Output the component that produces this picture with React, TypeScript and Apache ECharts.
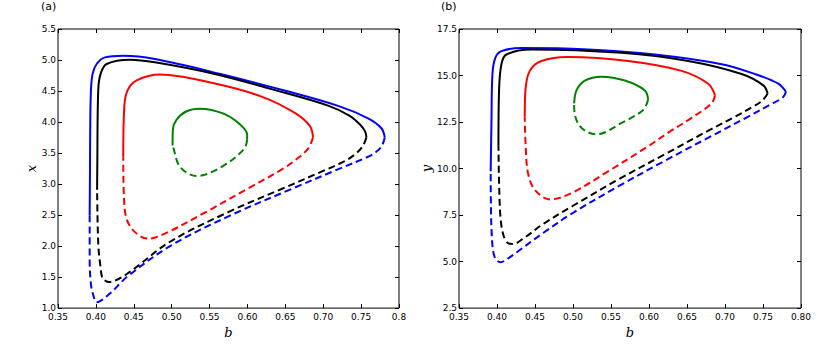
import React, { useEffect, useRef } from "react";
import * as echarts from "echarts";

// ---------- tick labels ----------
const xTicksA = ["0.35", "0.40", "0.45", "0.50", "0.55", "0.60", "0.65", "0.70", "0.75", "0.8"];
const xTicksB = ["0.35", "0.40", "0.45", "0.50", "0.55", "0.60", "0.65", "0.70", "0.75", "0.80"];
const yTicksA = ["1.0", "1.5", "2.0", "2.5", "3.0", "3.5", "4.0", "4.5", "5.0", "5.5"];
const yTicksB = ["2.5", "5.0", "7.5", "10.0", "12.5", "15.0", "17.5"];

// ---------- panel (a): b vs x ----------
const blueSolidA = [[0.3918, 2.5], [0.3922, 3.2], [0.3926, 4.0], [0.3935, 4.515], [0.3957, 4.78], [0.401, 4.936], [0.412, 5.042], [0.4361, 5.068], [0.4779, 5.015], [0.5658, 4.77], [0.645, 4.52], [0.7196, 4.26], [0.7592, 4.06], [0.7768, 3.9], [0.7812, 3.752]];
const blueDashA = [[0.7812, 3.752], [0.7775, 3.62], [0.77, 3.52], [0.761, 3.45], [0.72, 3.24], [0.66, 2.93], [0.5768, 2.49], [0.4978, 2.0], [0.4408, 1.5], [0.418, 1.23], [0.401, 1.095], [0.3962, 1.225], [0.3935, 1.38], [0.3918, 1.75], [0.3918, 2.5]];
const blackSolidA = [[0.4016, 2.91], [0.4018, 3.2], [0.4031, 4.515], [0.4063, 4.78], [0.4142, 4.936], [0.445, 5.005], [0.4779, 4.963], [0.557, 4.775], [0.6318, 4.53], [0.7064, 4.265], [0.735, 4.1], [0.7485, 3.96], [0.7552, 3.85], [0.757, 3.752]];
const blackDashA = [[0.757, 3.752], [0.7526, 3.62], [0.744, 3.5], [0.7284, 3.37], [0.6977, 3.2], [0.645, 2.92], [0.5768, 2.56], [0.4978, 2.07], [0.4408, 1.55], [0.4167, 1.42], [0.4087, 1.49], [0.4063, 1.647], [0.4032, 2.015], [0.4016, 2.91]];
const redSolidA = [[0.4361, 3.43], [0.4375, 4.253], [0.4419, 4.515], [0.4538, 4.673], [0.4845, 4.768], [0.557, 4.62], [0.6186, 4.41], [0.6625, 4.147], [0.6823, 3.937], [0.6866, 3.752]];
const redDashA = [[0.6866, 3.752], [0.68, 3.57], [0.6646, 3.4], [0.646, 3.24], [0.601, 2.93], [0.5438, 2.54], [0.491, 2.2], [0.469, 2.12], [0.4515, 2.225], [0.4406, 2.437], [0.437, 2.8], [0.4361, 3.43]];
const greenSolidA = [[0.5012, 3.62], [0.5016, 3.883], [0.5065, 4.04], [0.5197, 4.174], [0.5372, 4.215], [0.5658, 4.147], [0.5877, 3.989], [0.5996, 3.8], [0.5996, 3.72]];
const greenDashA = [[0.5996, 3.72], [0.5957, 3.567], [0.566, 3.278], [0.533, 3.13], [0.511, 3.278], [0.502, 3.594], [0.5012, 3.62]];

// ---------- panel (b): b vs y ----------
const blueSolidB = [[0.3917, 9.85], [0.3927, 12.45], [0.394, 15.08], [0.3979, 15.96], [0.4058, 16.31], [0.4322, 16.48], [0.5199, 16.4], [0.6077, 16.13], [0.6956, 15.61], [0.7394, 15.08], [0.7701, 14.56], [0.7803, 14.12]];
const blueDashB = [[0.7803, 14.12], [0.776, 13.82], [0.76, 13.45], [0.73, 12.78], [0.68, 11.7], [0.62, 10.4], [0.56, 9.05], [0.5, 7.62], [0.46, 6.52], [0.43, 5.62], [0.412, 5.1], [0.4049, 4.97], [0.3985, 5.12], [0.395, 5.55], [0.393, 6.5], [0.392, 8.0], [0.3917, 9.85]];
const blackSolidB = [[0.4019, 11.23], [0.4027, 14.2], [0.4058, 15.61], [0.4124, 16.13], [0.4453, 16.4], [0.5639, 16.22], [0.6516, 15.78], [0.7219, 15.08], [0.7504, 14.47], [0.7562, 14.03]];
const blackDashB = [[0.7562, 14.03], [0.749, 13.65], [0.735, 13.28], [0.71, 12.72], [0.68, 12.08], [0.62, 10.75], [0.56, 9.42], [0.5, 8.0], [0.46, 7.0], [0.436, 6.28], [0.4211, 5.95], [0.415, 5.98], [0.409, 6.35], [0.405, 7.2], [0.403, 8.8], [0.4019, 11.23]];
const redSolidB = [[0.4365, 12.8], [0.4374, 14.2], [0.4431, 15.25], [0.4585, 15.78], [0.4936, 15.99], [0.5726, 15.78], [0.6429, 15.25], [0.6779, 14.56], [0.6868, 13.94]];
const redDashB = [[0.6868, 13.94], [0.6824, 13.5], [0.655, 12.7], [0.6253, 11.93], [0.5989, 11.2], [0.5462, 9.85], [0.498, 8.68], [0.4695, 8.34], [0.4497, 8.86], [0.4409, 9.73], [0.4378, 11.14], [0.4365, 12.8]];
const greenSolidB = [[0.5015, 13.5], [0.5046, 14.2], [0.5155, 14.73], [0.5375, 14.94], [0.5682, 14.73], [0.5946, 14.2], [0.5989, 13.71]];
const greenDashB = [[0.5989, 13.71], [0.5923, 13.15], [0.5639, 12.45], [0.531, 11.84], [0.509, 12.28], [0.5015, 13.33], [0.5015, 13.5]];

const BLUE = "#0000ff";
const BLACK = "#000000";
const RED = "#ff0000";
const GREEN = "#008000";

function line(name: string, data: number[][], color: string, dashed: boolean, idx: number) {
  return {
    name,
    type: "line",
    xAxisIndex: idx,
    yAxisIndex: idx,
    data,
    showSymbol: false,
    symbol: "none",
    smooth: 0.35,
    lineStyle: { color, width: 2, type: dashed ? [7, 4] : "solid", cap: "butt" },
    silent: true,
  };
}

const tickFont = { fontFamily: "DejaVu Sans", fontSize: 9, color: "#000" };
const nameFont = { fontFamily: "DejaVu Serif", fontStyle: "italic", fontSize: 13, color: "#000" };

function xAxis(gi: number, labels: string[] | null, pos: "bottom" | "top") {
  return {
    type: "value",
    gridIndex: gi,
    position: pos,
    min: 0.35,
    max: 0.8,
    interval: 0.05,
    axisLine: { show: false },
    axisTick: { show: true, inside: true, length: 4, lineStyle: { color: "#000", width: 1 } },
    axisLabel: labels
      ? {
          show: true,
          margin: 4,
          showMinLabel: true,
          showMaxLabel: true,
          ...tickFont,
          formatter: (v: number) => labels[Math.round((v - 0.35) / 0.05)] ?? "",
        }
      : { show: false },
    splitLine: { show: false },
    name: labels ? "b" : "",
    nameLocation: "middle",
    nameGap: 15,
    nameTextStyle: nameFont,
  };
}

function yAxis(gi: number, min: number, max: number, step: number, labels: string[] | null, pos: "left" | "right", nm: string, gap: number) {
  return {
    type: "value",
    gridIndex: gi,
    position: pos,
    min,
    max,
    interval: step,
    axisLine: { show: false },
    axisTick: { show: true, inside: true, length: 4, lineStyle: { color: "#000", width: 1 } },
    axisLabel: labels
      ? {
          show: true,
          margin: 2,
          showMinLabel: true,
          showMaxLabel: true,
          ...tickFont,
          formatter: (v: number) => labels[Math.round((v - min) / step)] ?? "",
        }
      : { show: false },
    splitLine: { show: false },
    name: labels ? nm : "",
    nameLocation: "middle",
    nameGap: gap,
    nameTextStyle: nameFont,
  };
}

export default function App() {
  const ref = useRef<HTMLDivElement>(null);
  useEffect(() => {
    if (!ref.current) return;
    const chart = echarts.init(ref.current, null, { renderer: "svg" });
    chart.setOption({
      animation: false,
      backgroundColor: "#fff",
      grid: [
        { left: 58, top: 29, width: 341, height: 285, show: true, borderColor: "#000", borderWidth: 1, backgroundColor: "transparent" },
        { left: 459, top: 29, width: 342, height: 285, show: true, borderColor: "#000", borderWidth: 1, backgroundColor: "transparent" },
      ],
      xAxis: [
        xAxis(0, xTicksA, "bottom"),
        xAxis(1, xTicksB, "bottom"),
        xAxis(0, null, "top"),
        xAxis(1, null, "top"),
      ],
      yAxis: [
        yAxis(0, 1.0, 5.5, 0.5, yTicksA, "left", "x", 14),
        yAxis(1, 2.5, 17.5, 2.5, yTicksB, "left", "y", 16),
        yAxis(0, 1.0, 5.5, 0.5, null, "right", "", 0),
        yAxis(1, 2.5, 17.5, 2.5, null, "right", "", 0),
      ],
      graphic: [
        { type: "text", left: 41, top: 1, style: { text: "(a)", fontFamily: "DejaVu Sans", fontSize: 11, fill: "#000" } },
        { type: "text", left: 441, top: 1, style: { text: "(b)", fontFamily: "DejaVu Sans", fontSize: 11, fill: "#000" } },
      ],
      series: [
        line("blue solid (a)", blueSolidA, BLUE, false, 0),
        line("blue dashed (a)", blueDashA, BLUE, true, 0),
        line("black solid (a)", blackSolidA, BLACK, false, 0),
        line("black dashed (a)", blackDashA, BLACK, true, 0),
        line("red solid (a)", redSolidA, RED, false, 0),
        line("red dashed (a)", redDashA, RED, true, 0),
        line("green solid (a)", greenSolidA, GREEN, false, 0),
        line("green dashed (a)", greenDashA, GREEN, true, 0),
        line("blue solid (b)", blueSolidB, BLUE, false, 1),
        line("blue dashed (b)", blueDashB, BLUE, true, 1),
        line("black solid (b)", blackSolidB, BLACK, false, 1),
        line("black dashed (b)", blackDashB, BLACK, true, 1),
        line("red solid (b)", redSolidB, RED, false, 1),
        line("red dashed (b)", redDashB, RED, true, 1),
        line("green solid (b)", greenSolidB, GREEN, false, 1),
        line("green dashed (b)", greenDashB, GREEN, true, 1),
      ],
    });
    return () => chart.dispose();
  }, []);
  return <div ref={ref} style={{ position: "absolute", left: 0, top: 0, width: 830, height: 344 }} />;
}
